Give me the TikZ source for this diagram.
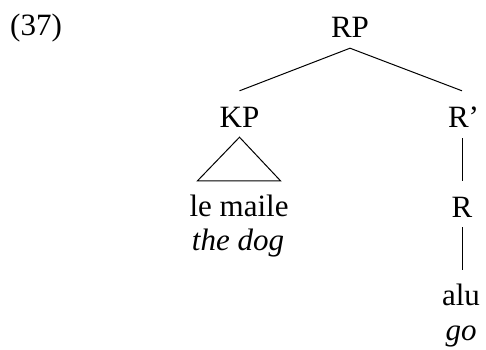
\documentclass[tikz,border=0pt]{standalone}
\usepackage{fontspec}
\setmainfont{Liberation Serif}
\begin{document}
\begin{tikzpicture}[x=1pt,y=-1pt,
  every node/.style={inner sep=0pt, font=\fontsize{31}{36}\selectfont},
  lab/.style={anchor=base, text height=21pt, text depth=0pt},
  edge/.style={line width=1pt}]
\useasboundingbox (0,0) rectangle (486,349);
\node[lab] (ex) at (36,35) {(37)};
\node[lab] (RP) at (350,37) {RP};
\node[lab] (KP) at (239.5,127) {KP};
\node[lab] (Rbar) at (463.5,127) {R’};
\node[lab] (lm) at (239,216) {le maile};
\node[lab] (td) at (238,250) {\itshape the dog};
\node[lab] (R) at (462,217) {R};
\node[lab] (alu) at (461,305) {alu};
\node[lab] (go) at (461,340) {\itshape go};
\coordinate (rpb) at ([yshift=-11pt]RP.south);
\coordinate (rbt) at ([yshift=15pt]Rbar.north);
\coordinate (rbb) at ([yshift=-11pt]Rbar.south);
\coordinate (alut) at ([yshift=14pt]alu.north);
\draw[edge] (rpb) -- ([yshift=15pt]KP.north);
\draw[edge] (rpb) -- (rbt -| R.north);
\draw[edge] ([yshift=-10pt]KP.south) -- ([shift={(-41.5pt,14pt)}]lm.north) -- ([shift={(41.5pt,14pt)}]lm.north) -- cycle;
\draw[edge] (rbb -| R.north) -- ([yshift=15pt]R.north);
\draw[edge] ([yshift=-10pt]R.south) -- (alut -| R.south);
\end{tikzpicture}
\end{document}
